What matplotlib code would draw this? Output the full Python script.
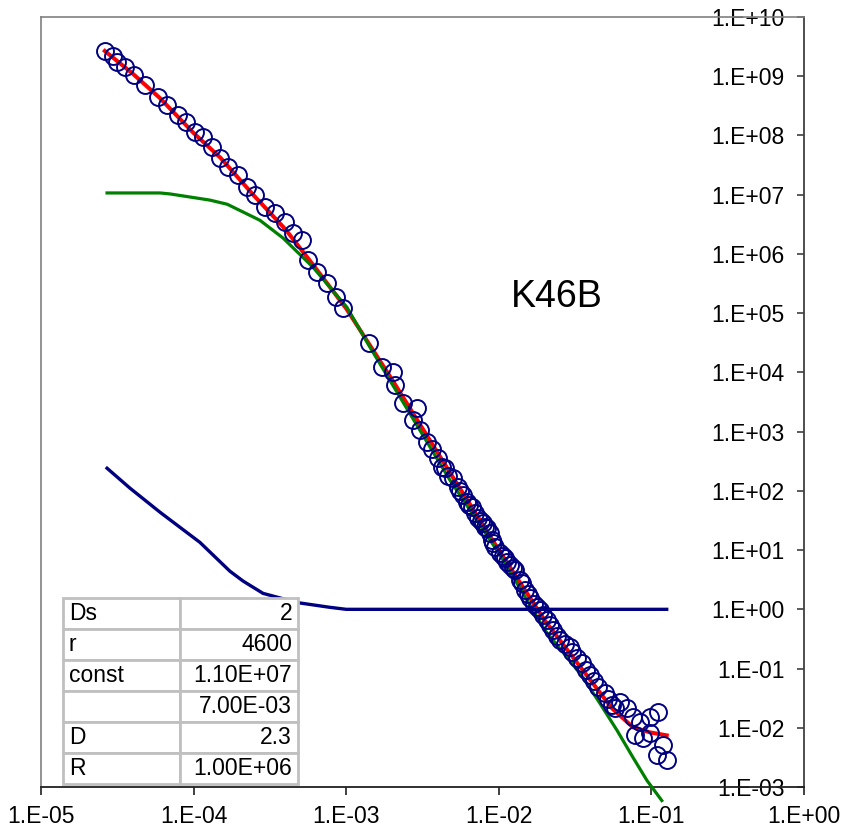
import numpy as np
import matplotlib.pyplot as plt
from matplotlib.ticker import FixedLocator, FuncFormatter, NullLocator
from matplotlib.table import Table

plt.rcParams["font.family"] = ["Liberation Sans", "DejaVu Sans"]

# === measured scattering curve (K46B) ===
q_data = [2.62e-5, 2.96e-5, 3.15e-5, 3.55e-5, 4.06e-5, 4.81e-5, 5.85e-5, 6.70e-5, 7.91e-5, 8.91e-5,
          1.02e-4, 1.15e-4, 1.32e-4, 1.49e-4, 1.68e-4, 1.95e-4, 2.24e-4, 2.52e-4, 2.94e-4, 3.41e-4,
          3.97e-4, 4.48e-4, 5.13e-4, 5.62e-4, 6.44e-4, 7.48e-4, 8.57e-4, 9.53e-4, 1.41e-3, 1.72e-3,
          2.03e-3, 2.09e-3, 2.36e-3, 2.74e-3, 2.91e-3, 3.05e-3, 3.39e-3, 3.65e-3, 4.00e-3, 4.25e-3,
          4.44e-3, 4.65e-3, 5.01e-3, 5.41e-3, 5.60e-3, 5.82e-3, 6.19e-3, 6.40e-3, 6.67e-3, 6.98e-3,
          7.31e-3, 7.60e-3, 7.87e-3, 8.10e-3, 8.37e-3, 8.75e-3, 9.02e-3, 9.20e-3, 9.44e-3, 1.02e-2,
          1.06e-2, 1.10e-2, 1.14e-2, 1.18e-2, 1.23e-2, 1.28e-2, 1.38e-2, 1.42e-2, 1.49e-2, 1.55e-2,
          1.60e-2, 1.70e-2, 1.78e-2, 1.86e-2, 1.95e-2, 2.07e-2, 2.15e-2, 2.26e-2, 2.40e-2, 2.52e-2,
          2.70e-2, 2.93e-2, 3.02e-2, 3.25e-2, 3.51e-2, 3.75e-2, 3.96e-2, 4.20e-2, 4.47e-2, 4.97e-2,
          5.20e-2, 5.52e-2, 5.80e-2, 6.22e-2, 6.92e-2, 7.57e-2, 7.82e-2, 8.41e-2, 8.81e-2, 9.80e-2,
          9.80e-2, 0.109, 0.110, 0.119, 0.126]
i_data = [2.67e9, 2.19e9, 1.74e9, 1.43e9, 1.05e9, 7.10e8, 4.45e8, 3.26e8, 2.21e8, 1.68e8,
          1.14e8, 9.4e7, 6.4e7, 4.15e7, 2.92e7, 2.14e7, 1.34e7, 9.8e6, 6.18e6, 4.89e6,
          3.44e6, 2.24e6, 1.71e6, 7.85e5, 4.93e5, 3.21e5, 1.86e5, 1.21e5, 3.11e4, 1.22e4,
          1.01e4, 6.08e3, 3.02e3, 1.56e3, 2.48e3, 1.06e3, 662, 505, 356, 251,
          241, 175, 163, 115, 100, 84, 64, 58, 52.8, 41.9,
          34.4, 31, 28.4, 25, 23.3, 19.2, 14.7, 13, 11.1, 8.83,
          8.0, 7.26, 6.3, 5.53, 5.0, 4.56, 3.09, 2.75, 2.09, 1.8,
          1.53, 1.25, 1.08, 0.96, 0.80, 0.652, 0.55, 0.442, 0.36, 0.299,
          0.26, 0.228, 0.188, 0.15, 0.122, 0.095, 0.0767, 0.062, 0.0481, 0.0381,
          0.031, 0.0239, 0.022, 0.0269, 0.0213, 0.0150, 7.45e-3, 0.0123, 6.64e-3, 0.0150,
          8.04e-3, 3.42e-3, 0.0182, 5.05e-3, 2.81e-3]

# === model: total fit, surface term, structure factor ===
q_fit = [2.62e-5, 4.0e-5, 6.0e-5, 1.0e-4, 1.5e-4, 2.5e-4, 4.0e-4, 6.0e-4, 1.0e-3,
         2.0e-3, 5.0e-3, 1.0e-2, 2.0e-2, 3.56e-2, 5.52e-2, 7.57e-2, 9.80e-2, 0.126]
i_fit = [2.67e9, 1.1e9, 4.3e8, 1.1e8, 4.2e7, 9.5e6, 2.6e6, 6.8e5, 1.2e5,
         7.5e3, 170, 10, 0.65, 0.093, 0.0213, 0.0102, 8.36e-3, 7.45e-3]

q_surf = [2.71e-5, 6.03e-5, 7.0e-5, 9.06e-5, 1.28e-4, 1.66e-4, 2.11e-4, 2.72e-4, 3.86e-4,
          6.05e-4, 1.01e-3, 1.43e-3, 4.79e-3, 1.02e-2, 2.01e-2, 2.80e-2, 3.56e-2, 4.60e-2,
          5.96e-2, 7.57e-2, 9.35e-2, 0.117]
i_surf = [1.07e7, 1.07e7, 1.03e7, 9.3e6, 8.1e6, 6.9e6, 5.1e6, 3.7e6, 1.85e6,
          5.98e5, 1.26e5, 2.67e4, 151, 8.2, 0.44, 0.155, 0.071, 0.0258,
          9.0e-3, 3.16e-3, 1.29e-3, 5.9e-4]

q_sq = [2.71e-5, 3.83e-5, 6.03e-5, 1.10e-4, 1.73e-4, 2.11e-4, 2.85e-4, 4.77e-4, 7.83e-4,
        1.0e-3, 1.0e-2, 0.126]
s_q = [241, 111, 43.5, 13.5, 4.4, 3.0, 1.86, 1.3, 1.08, 1.0, 1.0, 1.0]

# === fit parameters ===
param_names = ["Ds", "r", "const", "", "D", "R"]
param_values = ["2", "4600", "1.10E+07", "7.00E-03", "2.3", "1.00E+06"]

# === Plot ===
fig = plt.figure(figsize=(8.45, 8.33), dpi=100)
ax = fig.add_axes([0.0485, 0.0552, 0.903, 0.9244])
ax.set_xscale("log")
ax.set_yscale("log")

ax.plot(q_fit, i_fit, color="#FF0000", lw=2.9, zorder=2)
ax.plot(q_surf, i_surf, color="#008000", lw=2.3, zorder=3, clip_on=False)
ax.plot(q_data, i_data, "o", ms=12.2, mfc="none", mec="#000080", mew=1.4, zorder=4)
ax.plot(q_sq, s_q, color="#000080", lw=2.4, zorder=5)

ax.set_xlim(1e-5, 1)
ax.set_ylim(1e-3, 1e10)

# y axis sits on the right edge, labels inside the plot
ax.spines["left"].set_position(("axes", 1.0))
ax.spines["left"].set_color("#404040")
ax.spines["left"].set_linewidth(1.3)
ax.spines["right"].set_visible(False)
ax.spines["top"].set_color("#808080")
ax.spines["top"].set_linewidth(1.2)
ax.spines["bottom"].set_color("#202020")
ax.spines["bottom"].set_linewidth(1.3)
ax.plot([0, 0], [0, 1], transform=ax.transAxes, color="#808080", lw=1.2, clip_on=False)

fmt = FuncFormatter(lambda v, p: f"1.E{int(round(np.log10(v))):+03d}")
ax.xaxis.set_major_locator(FixedLocator(10.0 ** np.arange(-5, 1)))
ax.yaxis.set_major_locator(FixedLocator(10.0 ** np.arange(-3, 11)))
ax.xaxis.set_minor_locator(NullLocator())
ax.yaxis.set_minor_locator(NullLocator())
ax.xaxis.set_major_formatter(fmt)
ax.yaxis.set_major_formatter(fmt)
ax.tick_params(axis="x", direction="out", length=6, width=1.2, pad=7, labelsize=16.5, color="#202020")
ax.tick_params(axis="y", direction="out", length=5, width=1.2, pad=9, labelsize=16.5, color="#404040")

ax.text(0.024, 1.9e5, "K46B", fontsize=27, ha="center", va="center")

# === parameter table ===
tbl = Table(ax, bbox=[0.0288, 0.0039, 0.308, 0.2416])
n = len(param_names)
for r, (name, val) in enumerate(zip(param_names, param_values)):
    for c, (txt, loc) in enumerate([(name, "left"), (val, "right")]):
        cell = tbl.add_cell(r, c, 0.5, 1.0 / n, text=txt, loc=loc,
                            edgecolor="#C0C0C0", facecolor="white")
        cell.PAD = 0.05
        cell.set_linewidth(2)
tbl.auto_set_font_size(False)
tbl.set_fontsize(16.5)
tbl.set_zorder(6)
ax.add_table(tbl)

fig.savefig("out.png", dpi=100)
